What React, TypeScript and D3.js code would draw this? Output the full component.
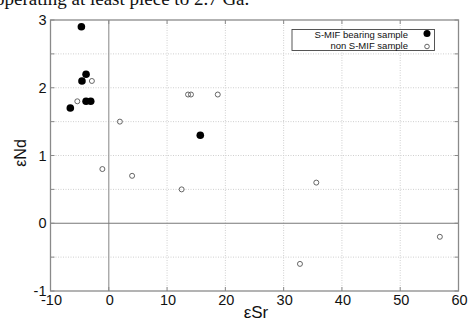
import React from "react";
import * as d3 from "d3";

const smifX = [-4.7, -3.9, -4.6, -3.9, -3.1, -6.6, 15.7];
const smifY = [2.9, 2.2, 2.1, 1.8, 1.8, 1.7, 1.3];
const nonX = [-5.4, -2.9, 1.9, -1.1, 4.0, 13.6, 14.1, 18.7, 12.5, 35.6, 32.8, 56.8];
const nonY = [1.8, 2.1, 1.5, 0.8, 0.7, 1.9, 1.9, 1.9, 0.5, 0.6, -0.6, -0.2];
const xTicks = [-10, 0, 10, 20, 30, 40, 50, 60];
const yTicks = [-1, -0.5, 0, 0.5, 1, 1.5, 2, 2.5, 3];
const yLabels = [-1, 0, 1, 2, 3];
const legendLabels = ["S-MIF bearing sample", "non S-MIF sample"];
const topText = "operating at least piece to 2.7 Ga.";

export default function App() {
  const W = 470, H = 320;
  const L = 50.5, R = 458.5, T = 20, B = 291;
  const x = d3.scaleLinear().domain([-10, 60]).range([L, R]);
  const y = d3.scaleLinear().domain([-1, 3]).range([B, T]);
  const axisColor = "#8a8a8a";
  const font = "Liberation Sans, Arial, sans-serif";
  return (
    <svg width={W} height={H} style={{ position: "absolute", left: 0, top: 0, background: "#fff" }}>
      <text x={-5} y={5} fontFamily="Liberation Serif, Times New Roman, serif" fontSize={19} fill="#111">{topText}</text>
      {/* grid */}
      {xTicks.slice(1, -1).filter(v => v !== 0).map(v => (
        <line key={"gx" + v} x1={x(v)} x2={x(v)} y1={T} y2={B} stroke="#cfcfcf" strokeWidth={1} strokeDasharray="1,1.5" />
      ))}
      {yTicks.filter(v => v !== 0 && v !== -1 && v !== 3).map(v => (
        <line key={"gy" + v} x1={L} x2={R} y1={y(v)} y2={y(v)} stroke="#cfcfcf" strokeWidth={1} strokeDasharray="1,1.5" />
      ))}
      {/* zero lines */}
      <line x1={x(0)} x2={x(0)} y1={T} y2={B} stroke="#999" strokeWidth={1.2} />
      <line x1={L} x2={R} y1={y(0)} y2={y(0)} stroke="#777" strokeWidth={1.2} />
      {/* box */}
      <rect x={L} y={T} width={R - L} height={B - T} fill="none" stroke={axisColor} strokeWidth={1.3} />
      {/* ticks */}
      {xTicks.map(v => (
        <g key={"tx" + v}>
          <line x1={x(v)} x2={x(v)} y1={B} y2={B - 4} stroke={axisColor} />
          <line x1={x(v)} x2={x(v)} y1={T} y2={T + 4} stroke={axisColor} />
        </g>
      ))}
      {yTicks.map(v => (
        <g key={"ty" + v}>
          <line x1={L} x2={L + 4} y1={y(v)} y2={y(v)} stroke={axisColor} />
          <line x1={R} x2={R - 4} y1={y(v)} y2={y(v)} stroke={axisColor} />
        </g>
      ))}
      {/* tick labels */}
      {xTicks.map(v => (
        <text key={"lx" + v} x={x(v) + 1} y={305} textAnchor="middle" fontFamily={font} fontSize={14.5} fill="#111">{v}</text>
      ))}
      {yLabels.map(v => (
        <text key={"ly" + v} x={46.5} y={y(v) + 5} textAnchor="end" fontFamily={font} fontSize={14.5} fill="#111">{v}</text>
      ))}
      {/* axis titles */}
      <text x={256} y={318} textAnchor="middle" fontFamily={font} fontSize={17} fill="#111">εSr</text>
      <text transform="translate(26,153) rotate(-90)" textAnchor="middle" fontFamily={font} fontSize={16} fill="#111">εNd</text>
      {/* data */}
      {nonX.map((v, i) => (
        <circle key={"n" + i} cx={x(v)} cy={y(nonY[i])} r={2.5} fill="none" stroke="#555" strokeWidth={0.9} />
      ))}
      {smifX.map((v, i) => (
        <circle key={"s" + i} cx={x(v)} cy={y(smifY[i])} r={3.8} fill="#000" />
      ))}
      {/* legend */}
      <rect x={292} y={29.5} width={142.5} height={21} fill="#fff" stroke="#444" strokeWidth={0.9} />
      <text x={408} y={37.5} textAnchor="end" fontFamily={font} fontSize={9.5} fill="#111">{legendLabels[0]}</text>
      <text x={408} y={49} textAnchor="end" fontFamily={font} fontSize={9.5} fill="#111">{legendLabels[1]}</text>
      <circle cx={427} cy={33.5} r={3.5} fill="#000" />
      <circle cx={427} cy={46.5} r={2.3} fill="none" stroke="#555" strokeWidth={0.9} />
    </svg>
  );
}
